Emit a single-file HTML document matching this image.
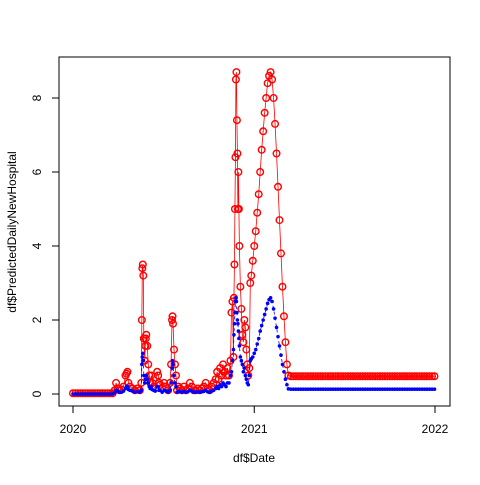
<!DOCTYPE html>
<html><head><meta charset="utf-8"><style>
body{margin:0;background:#fff}
svg text{font-family:"Liberation Sans",Arial,sans-serif;font-size:12px;fill:#000}
</style></head><body>
<svg id="chart" width="480" height="480">
<rect x="59" y="57" width="391" height="349" fill="none" stroke="#000"/>
<g id="axes"></g>
<g id="red"></g>
<g id="blue"></g>
<text x="254" y="462" text-anchor="middle">df$Date</text>
<text transform="translate(16,232) rotate(-90)" text-anchor="middle">df$PredictedDailyNewHospital</text>
</svg>
<script>
const days=[0,5,10,15,20,25,30,35,40,45,50,55,60,65,70,75,80,84,87,90,94,98,102,106,108,110,112,115,120,125,130,135,138,139,140,141,142,143,145,146,147,148,150,152,154,156,158,160,163,166,170,172,174,176,180,184,188,192,196,198,200,201,202,204,206,208,210,213,216,220,224,228,232,236,240,244,248,252,256,260,264,268,272,276,280,284,288,291,294,297,300,303,306,309,312,315,318,320,322,324,325,326,327,328,329,330,331,332,333,334,335,336,338,340,342,344,346,348,350,352,354,356,358,360,363,366,369,372,375,378,381,384,387,390,393,396,399,402,405,408,411,414,417,420,423,426,429,432,435,440,445,450,455,460,465,470,475,480,485,490,495,500,505,510,515,520,525,530,535,540,545,550,555,560,565,570,575,580,585,590,595,600,605,610,615,620,625,630,635,640,645,650,655,660,665,670,675,680,685,690,695,700,705,710,715,720,725,730];
const redVals=[0.02,0.02,0.02,0.02,0.02,0.02,0.02,0.02,0.02,0.02,0.02,0.02,0.02,0.02,0.02,0.02,0.02,0.1,0.3,0.15,0.1,0.12,0.2,0.5,0.55,0.6,0.3,0.2,0.15,0.1,0.15,0.1,0.3,2.0,3.4,3.5,3.2,1.5,0.9,1.3,1.5,1.6,1.3,0.8,0.5,0.3,0.5,0.3,0.2,0.15,0.6,0.5,0.3,0.25,0.15,0.3,0.2,0.1,0.3,0.8,2.0,2.1,1.9,1.2,0.8,0.5,0.1,0.2,0.15,0.1,0.2,0.1,0.15,0.3,0.2,0.1,0.1,0.15,0.1,0.15,0.2,0.3,0.15,0.1,0.2,0.3,0.4,0.6,0.4,0.7,0.5,0.8,0.6,0.5,0.7,0.5,0.9,2.2,2.5,1.0,2.6,3.5,5.0,6.4,8.5,8.7,7.4,6.5,5.0,6.0,5.0,4.0,2.9,2.3,1.6,1.4,2.0,1.8,1.2,0.8,0.5,0.7,3.0,3.2,3.6,4.0,4.4,4.9,5.4,6.0,6.6,7.1,7.6,8.0,8.4,8.6,8.7,8.5,8.0,7.3,6.5,5.6,4.7,3.8,2.9,2.1,1.4,0.8,0.5,0.48,0.48,0.48,0.48,0.48,0.48,0.48,0.48,0.48,0.48,0.48,0.48,0.48,0.48,0.48,0.48,0.48,0.48,0.48,0.48,0.48,0.48,0.48,0.48,0.48,0.48,0.48,0.48,0.48,0.48,0.48,0.48,0.48,0.48,0.48,0.48,0.48,0.48,0.48,0.48,0.48,0.48,0.48,0.48,0.48,0.48,0.48,0.48,0.48,0.48,0.48,0.48,0.48,0.48,0.48,0.48,0.48,0.48,0.48];
const blueVals=[0,0,0,0,0,0,0,0,0,0,0,0,0,0,0,0,0,0.03,0.1,0.08,0.05,0.05,0.08,0.15,0.2,0.2,0.12,0.1,0.08,0.05,0.06,0.05,0.1,0.8,1.0,1.1,0.9,0.5,0.3,0.4,0.5,0.5,0.4,0.3,0.2,0.15,0.2,0.12,0.1,0.08,0.2,0.2,0.1,0.1,0.05,0.1,0.08,0.05,0.1,0.3,0.7,0.9,0.8,0.5,0.3,0.2,0.05,0.07,0.06,0.05,0.07,0.05,0.06,0.1,0.08,0.05,0.05,0.06,0.05,0.06,0.07,0.1,0.06,0.05,0.08,0.1,0.15,0.2,0.15,0.25,0.2,0.3,0.25,0.2,0.3,0.3,0.5,0.6,0.9,1.2,1.6,1.9,2.2,2.5,2.6,2.5,2.2,2.0,1.9,1.7,1.5,1.3,1.0,0.9,0.8,0.6,0.7,0.5,0.4,0.3,0.25,0.5,0.9,0.95,1.0,1.1,1.2,1.35,1.5,1.7,1.85,2.0,2.15,2.3,2.45,2.55,2.6,2.5,2.3,2.05,1.8,1.55,1.3,1.05,0.8,0.6,0.4,0.25,0.14,0.13,0.13,0.13,0.13,0.13,0.13,0.13,0.13,0.13,0.13,0.13,0.13,0.13,0.13,0.13,0.13,0.13,0.13,0.13,0.13,0.13,0.13,0.13,0.13,0.13,0.13,0.13,0.13,0.13,0.13,0.13,0.13,0.13,0.13,0.13,0.13,0.13,0.13,0.13,0.13,0.13,0.13,0.13,0.13,0.13,0.13,0.13,0.13,0.13,0.13,0.13,0.13,0.13,0.13,0.13,0.13,0.13,0.13,0.13,0.13];
const yTicks=[0,2,4,6,8];
const xTickDays=[0,366,731];
const xTickLabels=['2020','2021','2022'];
const NS='http://www.w3.org/2000/svg';
const xs=d=>73+d*(435-73)/731;
const ys=v=>394-v*37;
function mk(tag,attrs,parent){const e=document.createElementNS(NS,tag);for(const k in attrs)e.setAttribute(k,attrs[k]);parent.appendChild(e);return e;}
const ax=document.getElementById('axes');
const yl=mk('line',{x1:59,x2:59,y1:ys(0),y2:ys(8),stroke:'#000'},ax);


yTicks.forEach(t=>{
 const l=mk('line',{x1:52,x2:59,y1:ys(t),y2:ys(t),stroke:'#000'},ax);
 
 
 const tx=mk('text',{transform:`translate(41,${ys(t)}) rotate(-90)`,'text-anchor':'middle'},ax);
 tx.textContent=t;
 
 
});
const xl=mk('line',{x1:xs(0),x2:xs(731),y1:406,y2:406,stroke:'#000'},ax);


xTickDays.forEach((d,i)=>{
 const l=mk('line',{x1:xs(d),x2:xs(d),y1:406,y2:413,stroke:'#000'},ax);
 
 
 const tx=mk('text',{x:xs(d),y:433,'text-anchor':'middle'},ax);
 tx.textContent=xTickLabels[i];
 
 
});
const rg=document.getElementById('red'),bg=document.getElementById('blue');
const n=Math.min(days.length,redVals.length,blueVals.length);
const idx=days.slice(0,n).map((d,i)=>i);
const rp=mk('polyline',{points:idx.map(i=>xs(days[i])+','+ys(redVals[i])).join(' '),fill:'none',stroke:'#f00','stroke-width':0.8},rg);


idx.forEach(i=>{
 const c=mk('circle',{cx:xs(days[i]),cy:ys(redVals[i]),r:3.3,fill:'none',stroke:'#f00','stroke-width':1.4},rg);
 
 
});
const bp=mk('polyline',{points:idx.map(i=>xs(days[i])+','+ys(blueVals[i])).join(' '),fill:'none',stroke:'#00f','stroke-width':0.8,'stroke-dasharray':'3,3'},bg);


idx.forEach(i=>{
 const c=mk('circle',{cx:xs(days[i]),cy:ys(blueVals[i]),r:1.8,fill:'#00f'},bg);
 
 
});
</script>
</body></html>
